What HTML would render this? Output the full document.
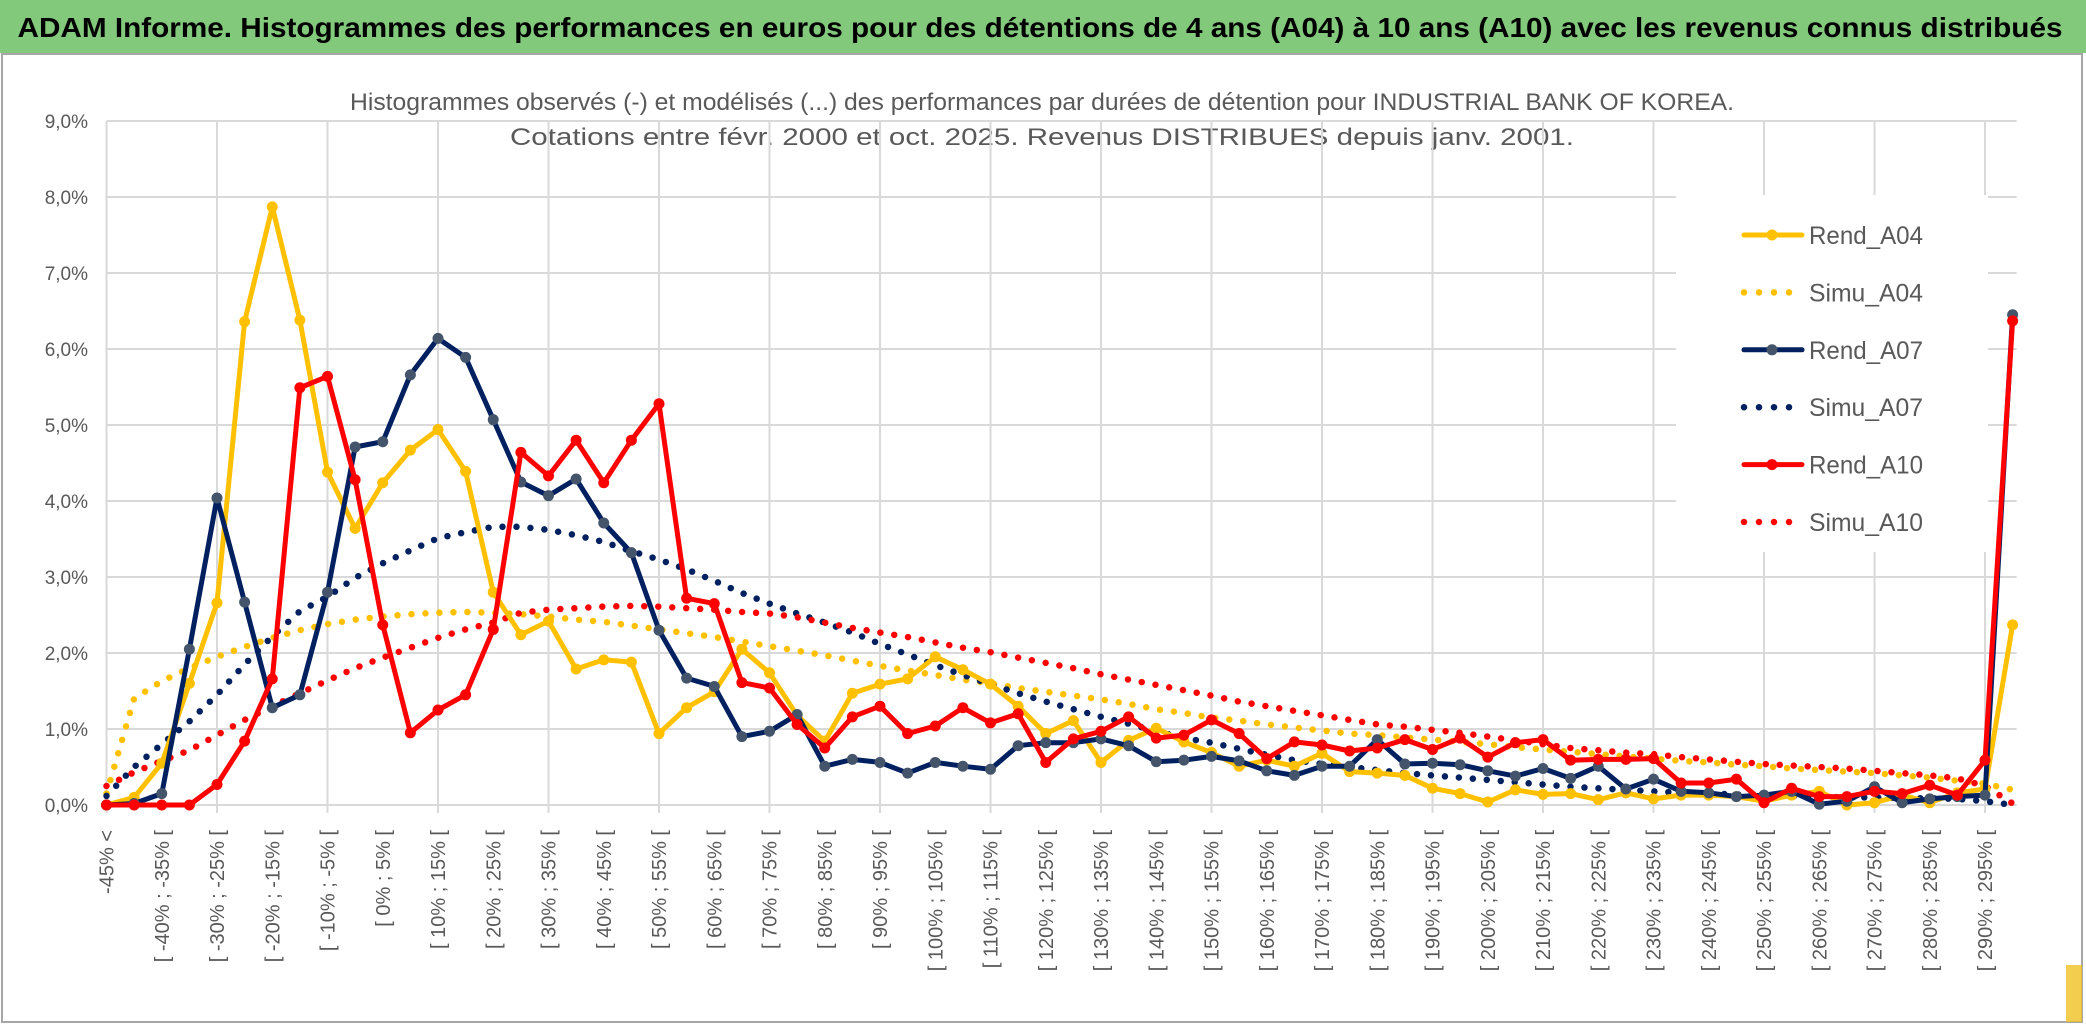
<!DOCTYPE html>
<html><head><meta charset="utf-8"><style>
html,body{margin:0;padding:0;background:#fff;}
svg{display:block;}
text{font-family:"Liberation Sans",sans-serif;}
</style></head><body>
<svg id="chart" width="2086" height="1033" viewBox="0 0 2086 1033" xmlns="http://www.w3.org/2000/svg">
<defs><clipPath id="clipBottom"><rect x="0" y="0" width="2086" height="1019"/></clipPath></defs>
<rect x="0" y="0" width="2086" height="1033" fill="#fff"/>
<rect x="2" y="54" width="2080" height="968" fill="#fff" stroke="#a6a6a6" stroke-width="2"/>
<rect x="2066" y="965" width="16" height="57" fill="#f0c020" opacity="0.8"/>
<rect x="0" y="0" width="2086" height="53" fill="#82c97c"/>
<text x="1040" y="37" text-anchor="middle" font-size="28" font-weight="bold" fill="#000" textLength="2045" lengthAdjust="spacingAndGlyphs">ADAM Informe. Histogrammes des performances en euros pour des détentions de 4 ans (A04) à 10 ans (A10) avec les revenus connus distribués</text>
<text x="1042" y="110" text-anchor="middle" font-size="24" fill="#595959" textLength="1384" lengthAdjust="spacingAndGlyphs">Histogrammes observés (-) et modélisés (...) des performances par durées de détention pour INDUSTRIAL BANK OF KOREA.</text>
<text x="1042" y="145" text-anchor="middle" font-size="24" fill="#595959" textLength="1064" lengthAdjust="spacingAndGlyphs">Cotations entre févr. 2000 et oct. 2025. Revenus DISTRIBUES depuis janv. 2001.</text>
<g id="grid"></g>
<g id="yaxis"></g>
<g id="xaxis" clip-path="url(#clipBottom)"></g>
<g id="series"></g>
<g id="legend"></g>
</svg>
<script>
const categories = [];
categories.push("-45% <");
for (let k = 1; k < 69; k++) { categories.push("[ " + (-50 + 5*k) + "% ; " + (-45 + 5*k) + "% ["); }
categories.push("> 295%");
const yTicks = [0,1,2,3,4,5,6,7,8,9];
const yTickLabels = ["0,0%","1,0%","2,0%","3,0%","4,0%","5,0%","6,0%","7,0%","8,0%","9,0%"];
const seriesNames = ["Rend_A04","Simu_A04","Rend_A07","Simu_A07","Rend_A10","Simu_A10"];
const rendA04 = [0.0,0.1,0.55,1.6,2.66,6.36,7.87,6.38,4.38,3.64,4.24,4.67,4.94,4.39,2.80,2.24,2.42,1.79,1.91,1.88,0.94,1.28,1.49,2.05,1.74,1.18,0.84,1.47,1.59,1.66,1.95,1.78,1.59,1.30,0.94,1.11,0.56,0.85,1.01,0.83,0.69,0.51,0.59,0.51,0.68,0.44,0.42,0.39,0.22,0.15,0.04,0.20,0.14,0.15,0.07,0.16,0.08,0.13,0.13,0.11,0.05,0.13,0.18,0.0,0.03,0.13,0.03,0.16,0.21,2.37];
const simuA04 = [0.15,1.4,1.63,1.8,1.95,2.08,2.2,2.3,2.38,2.44,2.48,2.51,2.53,2.54,2.53,2.51,2.48,2.44,2.41,2.36,2.31,2.26,2.21,2.15,2.09,2.03,1.97,1.90,1.83,1.77,1.71,1.65,1.60,1.54,1.49,1.44,1.39,1.33,1.26,1.21,1.15,1.11,1.06,1.02,0.98,0.94,0.92,0.89,0.86,0.83,0.80,0.76,0.73,0.70,0.67,0.64,0.61,0.58,0.56,0.53,0.51,0.48,0.46,0.44,0.42,0.39,0.36,0.32,0.28,0.20];
const rendA07 = [0.0,0.02,0.15,2.05,4.04,2.67,1.28,1.45,2.80,4.71,4.78,5.66,6.14,5.89,5.07,4.25,4.07,4.29,3.71,3.32,2.30,1.67,1.56,0.90,0.97,1.19,0.51,0.60,0.56,0.42,0.56,0.51,0.47,0.78,0.82,0.82,0.87,0.78,0.57,0.59,0.64,0.58,0.45,0.39,0.51,0.51,0.86,0.54,0.55,0.53,0.45,0.38,0.48,0.35,0.51,0.21,0.34,0.18,0.16,0.11,0.13,0.18,0.01,0.05,0.24,0.03,0.08,0.11,0.13,6.45];
const simuA07 = [0.12,0.5,0.8,1.1,1.45,1.85,2.22,2.55,2.74,2.99,3.18,3.35,3.51,3.59,3.66,3.66,3.62,3.55,3.46,3.34,3.23,3.10,2.95,2.79,2.65,2.52,2.40,2.27,2.12,1.98,1.84,1.71,1.59,1.47,1.36,1.26,1.16,1.07,0.97,0.88,0.82,0.74,0.66,0.59,0.54,0.50,0.46,0.42,0.39,0.36,0.33,0.30,0.27,0.24,0.22,0.20,0.18,0.16,0.15,0.14,0.13,0.12,0.11,0.10,0.10,0.09,0.09,0.08,0.05,0.0];
const rendA10 = [0,0,0,0,0.27,0.84,1.66,5.49,5.64,4.28,2.37,0.95,1.25,1.45,2.31,4.64,4.33,4.80,4.24,4.80,5.28,2.72,2.65,1.61,1.54,1.06,0.75,1.16,1.30,0.94,1.04,1.28,1.08,1.20,0.56,0.87,0.97,1.16,0.88,0.92,1.12,0.94,0.61,0.83,0.79,0.71,0.75,0.86,0.73,0.88,0.63,0.82,0.86,0.59,0.60,0.60,0.61,0.29,0.29,0.34,0.03,0.22,0.11,0.11,0.18,0.15,0.26,0.13,0.59,6.37];
const simuA10 = [0.25,0.43,0.58,0.72,0.92,1.12,1.30,1.47,1.64,1.80,1.94,2.07,2.20,2.31,2.40,2.53,2.57,2.59,2.61,2.62,2.61,2.59,2.57,2.54,2.52,2.47,2.40,2.33,2.27,2.21,2.14,2.07,2.01,1.94,1.87,1.80,1.72,1.65,1.58,1.51,1.44,1.36,1.30,1.24,1.18,1.12,1.06,1.03,0.99,0.95,0.90,0.85,0.80,0.75,0.72,0.69,0.67,0.63,0.60,0.57,0.54,0.52,0.50,0.48,0.45,0.42,0.39,0.35,0.25,0.02];

const NS = "http://www.w3.org/2000/svg";
const X0 = 106.5, DX = 27.625, Y0 = 805, DY = 76;
function xScale(i){ return X0 + i*DX; }
function yScale(v){ return Y0 - v*DY; }
function mk(tag, parent){ const e = document.createElementNS(NS, tag); parent.appendChild(e); return e; }

const grid = document.getElementById('grid');
const xEnd = xScale(categories.length - 1) + 4;
yTicks.forEach(function(t){
  const l = mk('line', grid);
  l.setAttribute('x1', X0); l.setAttribute('x2', xEnd);
  l.setAttribute('y1', yScale(t)); l.setAttribute('y2', yScale(t));
  l.setAttribute('stroke', '#d9d9d9'); l.setAttribute('stroke-width', '2');
  
  
});
for (let i = 0; i < categories.length; i += 4) {
  const l = mk('line', grid);
  l.setAttribute('x1', xScale(i)); l.setAttribute('x2', xScale(i));
  l.setAttribute('y1', yScale(yTicks[yTicks.length-1])); l.setAttribute('y2', Y0 + 8);
  l.setAttribute('stroke', '#d9d9d9'); l.setAttribute('stroke-width', '2');
  
  
}

const yaxis = document.getElementById('yaxis');
yTicks.forEach(function(t, k){
  const tx = mk('text', yaxis);
  tx.setAttribute('x', 88); tx.setAttribute('y', yScale(t) + 7);
  tx.setAttribute('text-anchor', 'end'); tx.setAttribute('font-size', '19');
  tx.setAttribute('fill', '#595959');
  tx.textContent = yTickLabels[k];
  
  
});

const xaxis = document.getElementById('xaxis');
for (let i = 0; i < categories.length; i += 2) {
  const x = xScale(i), y = 830;
  const tx = mk('text', xaxis);
  tx.setAttribute('x', x); tx.setAttribute('y', y);
  tx.setAttribute('transform', 'rotate(-90 ' + x + ' ' + y + ')');
  tx.setAttribute('text-anchor', 'end'); tx.setAttribute('dy', '7');
  tx.setAttribute('font-size', '20'); tx.setAttribute('fill', '#595959');
  tx.textContent = categories[i];
  
  
}

const seriesG = document.getElementById('series');
function drawSeries(vals, color, dotted, markerColor, name){
  const g = mk('g', seriesG);
  
  
  const p = mk('polyline', g);
  p.setAttribute('points', vals.map(function(v,i){ return xScale(i).toFixed(1) + ',' + yScale(v).toFixed(1); }).join(' '));
  p.setAttribute('fill', 'none'); p.setAttribute('stroke', color);
  p.setAttribute('stroke-linejoin', 'round');
  if (dotted) { p.setAttribute('stroke-width', '6.5'); p.setAttribute('stroke-dasharray', '0 14'); p.setAttribute('stroke-linecap', 'round'); }
  else { p.setAttribute('stroke-width', '5'); }
  
  
  if (!dotted) {
    vals.forEach(function(v,i){
      const c = mk('circle', g);
      c.setAttribute('cx', xScale(i)); c.setAttribute('cy', yScale(v)); c.setAttribute('r', '5.5');
      c.setAttribute('fill', markerColor);
      
      
    });
  }
}
drawSeries(simuA04, '#FFC000', true, null, 'simu-a04');
drawSeries(simuA07, '#002060', true, null, 'simu-a07');
drawSeries(simuA10, '#FF0000', true, null, 'simu-a10');
drawSeries(rendA04, '#FFC000', false, '#FFC000', 'rend-a04');
drawSeries(rendA07, '#002060', false, '#44546A', 'rend-a07');
drawSeries(rendA10, '#FF0000', false, '#FF0000', 'rend-a10');

const legend = document.getElementById('legend');
const bg = mk('rect', legend);
bg.setAttribute('x', 1676); bg.setAttribute('y', 195); bg.setAttribute('width', 312); bg.setAttribute('height', 357); bg.setAttribute('fill', '#fff');


const legColors = ['#FFC000','#FFC000','#002060','#002060','#FF0000','#FF0000'];
const legMarker = ['#FFC000',null,'#44546A',null,'#FF0000',null];
seriesNames.forEach(function(n, k){
  const y = 235 + k*57.4;
  const g = mk('g', legend);
  
  
  const l = mk('line', g);
  l.setAttribute('x1', 1744); l.setAttribute('x2', 1802); l.setAttribute('y1', y); l.setAttribute('y2', y);
  l.setAttribute('stroke', legColors[k]);
  if (legMarker[k]) { l.setAttribute('stroke-width', '5'); l.setAttribute('stroke-linecap', 'round'); }
  else { l.setAttribute('x2', 1790); l.setAttribute('stroke-width', '6.5'); l.setAttribute('stroke-dasharray', '0 15'); l.setAttribute('stroke-linecap', 'round'); }
  
  
  if (legMarker[k]) {
    const c = mk('circle', g);
    c.setAttribute('cx', 1772); c.setAttribute('cy', y); c.setAttribute('r', '5.5'); c.setAttribute('fill', legMarker[k]);
    
    
  }
  const t = mk('text', g);
  t.setAttribute('x', 1809); t.setAttribute('y', y + 9);
  t.setAttribute('font-size', '25'); t.setAttribute('fill', '#595959');
  t.setAttribute('textLength', '114'); t.setAttribute('lengthAdjust', 'spacingAndGlyphs');
  t.textContent = n;
  
  
});
</script>
</body></html>
